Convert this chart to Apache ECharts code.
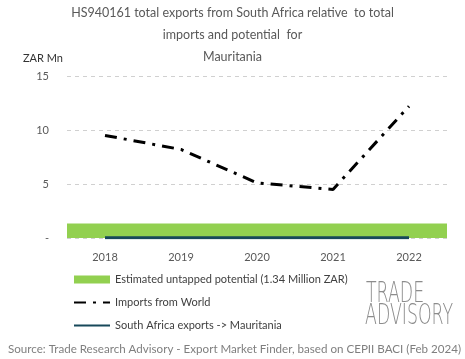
<!DOCTYPE html>
<html><head><meta charset="utf-8">
<script src="https://cdn.jsdelivr.net/npm/echarts@6/dist/echarts.min.js"></script>
<style>html,body{margin:0;padding:0;background:#fff}#c{width:465px;height:359px}</style>
</head><body><div id="c"></div>
<script>
const years = ['2018','2019','2020','2021','2022'];
const importsWorld = [9.5, 8.2, 5.1, 4.5, 12.2];
const saExports = [0.02, 0.02, 0.02, 0.02, 0.02];
const potential = [1.34, 1.34, 1.34, 1.34, 1.34];
const yTicks = [0, 5, 10, 15];

const chart = echarts.init(document.getElementById('c'), null, {renderer: 'canvas'});
const font = 'Lato, "Noto Sans", sans-serif';
const logoFont = '300 28px "DejaVu Sans", sans-serif';
chart.setOption({
  animation: false,
  title: {
    text: 'HS940161 total exports from South Africa relative  to total\nimports and potential  for\nMauritania',
    left: 'center', top: -3,
    textStyle: {fontFamily: font, fontSize: 12.5, fontWeight: 'normal', color: '#595959', lineHeight: 22}
  },
  grid: {left: 67, right: 18, top: 76, bottom: 121},
  xAxis: {
    type: 'category', data: years, boundaryGap: true,
    axisLine: {show: false}, axisTick: {show: false},
    axisLabel: {color: '#595959', fontFamily: font, fontSize: 11, margin: 14}
  },
  yAxis: {
    type: 'value', min: 0, max: 15, interval: 5,
    name: 'ZAR Mn', nameLocation: 'end', nameGap: 12,
    nameTextStyle: {color: '#333', fontFamily: font, fontSize: 11, align: 'right', padding: [0, 4, 0, 0]},
    axisLabel: {color: '#595959', fontFamily: font, fontSize: 11, margin: 18,
      formatter: v => v === 0 ? '-' : String(v)},
    splitLine: {show: true, lineStyle: {type: [4, 4], color: '#d0d0d0'}},
    axisLine: {show: false}, axisTick: {show: false}
  },
  legend: {
    orient: 'vertical', left: 68, top: 269, itemGap: 12,
    itemWidth: 36, itemHeight: 8,
    textStyle: {color: '#404040', fontFamily: font, fontSize: 11},
    data: [
      {name: 'Estimated untapped potential (1.34 Million ZAR)', icon: 'rect'},
      {name: 'Imports from World', itemStyle: {opacity: 0}},
      {name: 'South Africa exports -> Mauritania', itemStyle: {opacity: 0}}
    ]
  },
  series: [
    {
      name: 'Estimated untapped potential (1.34 Million ZAR)', type: 'bar',
      data: potential, barCategoryGap: '0%', itemStyle: {color: '#92d050'}, z: 1
    },
    {
      name: 'Imports from World', type: 'line', data: importsWorld,
      symbol: 'none', lineStyle: {color: '#000', width: 3, type: [12, 7, 3, 7]},
      itemStyle: {color: '#000'}, z: 3
    },
    {
      name: 'South Africa exports -> Mauritania', type: 'line', data: saExports,
      symbol: 'none', lineStyle: {color: '#17485a', width: 3},
      itemStyle: {color: '#17485a'}, z: 2
    }
  ],
  graphic: [
    {type: 'text', left: 8, bottom: 4,
      style: {text: 'Source: Trade Research Advisory - Export Market Finder, based on CEPII BACI (Feb 2024)',
        fill: '#7f7f7f', font: '11.6px ' + font}},
    {type: 'text', x: 366, y: 281, scaleX: 0.62,
      style: {text: 'TRADE', fill: '#8c8c8c', font: logoFont}},
    {type: 'text', x: 365, y: 303, scaleX: 0.62,
      style: {text: 'ADVISORY', fill: '#8c8c8c', font: logoFont}}
  ]
});
</script></body></html>
